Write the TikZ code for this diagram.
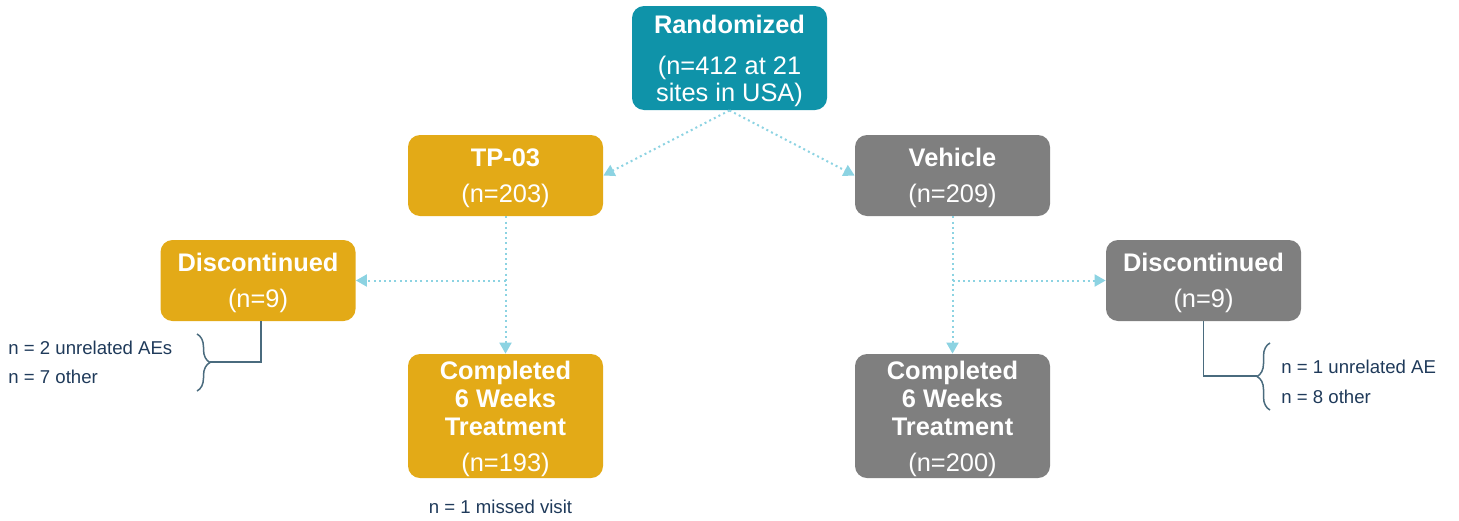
\documentclass[tikz,border=0pt]{standalone}
\usepackage{fontspec}
\setmainfont{Liberation Sans}
\usetikzlibrary{arrows.meta,decorations.pathreplacing}
\definecolor{rteal}{HTML}{0F93A9}
\definecolor{rgold}{HTML}{E3AA17}
\definecolor{rgray}{HTML}{7F7F7F}
\definecolor{arrowc}{HTML}{8CD3E2}
\definecolor{connc}{HTML}{4A6B7E}
\definecolor{navy}{HTML}{1F3A5A}
\begin{document}
\begin{tikzpicture}[x=0.5pt,y=-0.5pt,
  box/.style={rounded corners=6pt, minimum width=97.5pt, minimum height=40.5pt,
    text=white, align=center, inner sep=0pt, text depth=0pt,
    font=\fontsize{12.7}{13.5}\selectfont},
  flow/.style={draw=arrowc, line width=1pt, dash pattern=on 1pt off 1.6pt,
    -{Triangle[length=5.5pt,width=6pt]}},
  conn/.style={draw=connc, line width=0.75pt},
  small/.style={text=navy, inner sep=0pt, font=\fontsize{9.3}{11}\selectfont}]
\useasboundingbox (0,0) rectangle (1459,520);
% boxes
\node[box, fill=rteal, minimum height=52pt] (rand) at (729.5,58)
  {\textbf{Randomized}\\[7pt](n=412 at 21\\sites in USA)};
\node[box, fill=rgold] (tp) at (505.5,175.5) {\textbf{TP-03}\\[4.5pt](n=203)};
\node[box, fill=rgray] (veh) at (952.5,175.5) {\textbf{Vehicle}\\[4.5pt](n=209)};
\node[box, fill=rgold] (discL) at (258,280.5) {\textbf{Discontinued}\\[4.5pt](n=9)};
\node[box, fill=rgray] (discR) at (1203.5,280.5) {\textbf{Discontinued}\\[4.5pt](n=9)};
\node[box, fill=rgold, minimum height=62pt, font=\fontsize{12.7}{14}\selectfont] (compL) at (505.5,416)
  {\textbf{Completed}\\\textbf{6 Weeks}\\\textbf{Treatment}\\[4pt](n=193)};
\node[box, fill=rgray, minimum height=62pt, font=\fontsize{12.7}{14}\selectfont] (compR) at (952.5,416)
  {\textbf{Completed}\\\textbf{6 Weeks}\\\textbf{Treatment}\\[4pt](n=200)};
% flow arrows
\draw[flow] (rand.south) -- (tp.east);
\draw[flow] (rand.south) -- (veh.west);
\draw[flow] (tp.south) -- (compL.north);
\draw[flow] (tp.south |- discL.east) -- (discL.east);
\draw[flow] (veh.south) -- (compR.north);
\draw[flow] (veh.south |- discR.west) -- (discR.west);
% side notes
\node[small, anchor=west] (l1) at (8,348) {n = 2 unrelated AEs};
\node[small, anchor=west] (l2) at (8,377) {n = 7 other};
\node[small, anchor=west] (r1) at (1281,367) {n = 1 unrelated AE};
\node[small, anchor=west] (r2) at (1281,397) {n = 8 other};
\node[small] (miss) at (500.5,507) {n = 1 missed visit};
% brackets
\coordinate (braceL) at (210,362);
\coordinate (braceR) at (1257,376);
\draw[conn] ([xshift=1.5pt]discL.south) |- (braceL);
\draw[conn] (discR.south) |- (braceR);
\draw[conn, decorate, decoration={brace, amplitude=6.5pt}] (197,334) -- (197,391);
\draw[conn, decorate, decoration={brace, amplitude=6.5pt}] (1270,410) -- (1270,343);
\end{tikzpicture}
\end{document}
